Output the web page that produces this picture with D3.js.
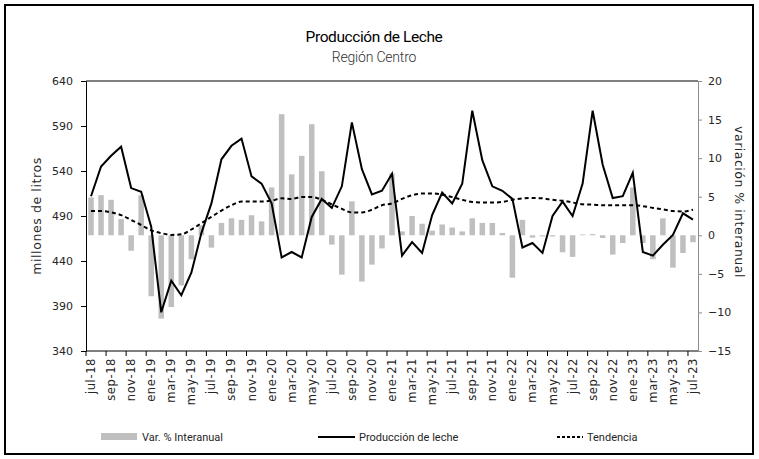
<!DOCTYPE html>
<html>
<head>
<meta charset="utf-8">
<script src="https://cdn.jsdelivr.net/npm/d3@7"></script>
<style>
  body { margin: 0; background: #fff; }
  svg text { font-family: "DejaVu Sans", sans-serif; fill: #262626; }
  .title text { font-family: Roboto, "Noto Sans", sans-serif; }
</style>
</head>
<body>
<div id="chart"></div>
<script>
// data, jul-18 .. jul-23
const months = [
  'jul-18','ago-18','sep-18','oct-18','nov-18','dic-18',
  'ene-19','feb-19','mar-19','abr-19','may-19','jun-19','jul-19','ago-19','sep-19','oct-19','nov-19','dic-19',
  'ene-20','feb-20','mar-20','abr-20','may-20','jun-20','jul-20','ago-20','sep-20','oct-20','nov-20','dic-20',
  'ene-21','feb-21','mar-21','abr-21','may-21','jun-21','jul-21','ago-21','sep-21','oct-21','nov-21','dic-21',
  'ene-22','feb-22','mar-22','abr-22','may-22','jun-22','jul-22','ago-22','sep-22','oct-22','nov-22','dic-22',
  'ene-23','feb-23','mar-23','abr-23','may-23','jun-23','jul-23'
];
// millones de litros
const produccion = [
  512, 545, 557, 567, 521, 517,
  478, 383, 418, 402, 427, 471, 504, 553, 568, 576, 534, 526,
  504, 444, 450, 444, 489, 509, 499, 523, 594, 542, 514, 518,
  537, 446, 461, 449, 491, 516, 504, 526, 607, 552, 523, 518,
  509, 455, 460, 449, 490, 506, 490, 526, 607, 547, 510, 512,
  538, 450, 446, 458, 469, 493, 486
];
// var. % interanual
const variacion = [
  4.9, 5.2, 4.6, 2.1, -2.0, 5.2,
  -7.9, -10.8, -9.3, -6.5, -3.1, 1.3, -1.6, 1.6, 2.2, 2.0, 2.6, 1.8,
  6.2, 15.7, 7.9, 10.3, 14.4, 8.3, -1.2, -5.1, 4.4, -6.0, -3.8, -1.7,
  8.0, 0.5, 2.5, 1.5, 0.6, 1.4, 1.0, 0.5, 2.2, 1.6, 1.6, 0.3,
  -5.5, 2.0, -0.3, -0.15, -0.15, -2.2, -2.8, 0.1, 0.15, -0.35, -2.5, -1.0,
  6.2, -1.0, -3.1, 2.2, -4.2, -2.3, -0.9
];
// tendencia (millones de litros)
const tendencia = [
  495.6, 495.5, 494, 491, 485.6, 480,
  474, 471, 469, 469.6, 475, 482, 489, 496, 502, 506, 506, 506,
  507, 509.6, 509, 511, 511, 508, 503, 498, 494, 494, 497, 502,
  504, 509, 513, 515, 515, 513.7, 511, 508, 505.6, 505, 505, 505.6,
  508, 509.6, 510, 509.6, 508, 507, 505, 503, 502.6, 502, 502, 502,
  502, 501, 499, 497.4, 495.6, 495, 497
];
const leftTicks = [340, 390, 440, 490, 540, 590, 640];
const rightTicks = [-15, -10, -5, 0, 5, 10, 15, 20];

const W = 759, H = 459;
const plot = { left: 86, right: 698, top: 81, bottom: 351 };

const svg = d3.select('#chart').append('svg')
  .attr('width', W).attr('height', H);

// outer frame
svg.append('rect')
  .attr('x', 5).attr('y', 5).attr('width', 748).attr('height', 449)
  .attr('fill', 'none').attr('stroke', '#000').attr('stroke-width', 2);

const x = d3.scaleBand().domain(months).range([plot.left, plot.right]).padding(0);
const y = d3.scaleLinear().domain([340, 640]).range([plot.bottom, plot.top]);
const y2 = d3.scaleLinear().domain([-15, 20]).range([plot.bottom, plot.top]);
const cx = (m) => x(m) + x.bandwidth() / 2;

// title
const title = svg.append('g').attr('class', 'title');
title.append('text').attr('x', 374).attr('y', 42).attr('text-anchor', 'middle')
  .style('font-size', '15.5px').style('letter-spacing', '-0.4px').style('fill', '#000').text('Producción de Leche');
title.append('text').attr('x', 374).attr('y', 62).attr('text-anchor', 'middle')
  .style('font-size', '14px').style('font-weight', 300).style('letter-spacing', '-0.2px').style('fill', '#333').text('Región Centro');

// top border of plot
svg.append('line')
  .attr('x1', plot.left).attr('x2', plot.right).attr('y1', plot.top).attr('y2', plot.top)
  .attr('stroke', '#000').attr('stroke-width', 1);

// bars
const barW = x.bandwidth() * 0.55;
svg.append('g').selectAll('rect')
  .data(months.map((m, i) => ({ m, v: variacion[i] })))
  .join('rect')
  .attr('x', (d) => cx(d.m) - barW / 2)
  .attr('width', barW)
  .attr('y', (d) => Math.min(y2(d.v), y2(0)))
  .attr('height', (d) => Math.abs(y2(d.v) - y2(0)))
  .attr('fill', '#bfbfbf');

// tendencia
const tLine = d3.line().x((d, i) => cx(months[i])).y((d) => y(d)).curve(d3.curveMonotoneX);
svg.append('path').datum(tendencia)
  .attr('d', tLine).attr('fill', 'none')
  .attr('stroke', '#000').attr('stroke-width', 2).attr('stroke-dasharray', '4,3');

// produccion
const pLine = d3.line().x((d, i) => cx(months[i])).y((d) => y(d));
svg.append('path').datum(produccion)
  .attr('d', pLine).attr('fill', 'none')
  .attr('stroke', '#000').attr('stroke-width', 2).attr('stroke-linejoin', 'miter');

// left axis
const gl = svg.append('g').attr('transform', 'translate(' + plot.left + ',0)')
  .call(d3.axisLeft(y).tickValues(leftTicks).tickSize(5).tickPadding(8).tickSizeOuter(0));
gl.select('.domain').attr('stroke', '#000');
gl.selectAll('text').style('font-size', '11px').style('font-family', '"DejaVu Sans", sans-serif').attr('fill', '#262626');

// right axis
const gr = svg.append('g').attr('transform', 'translate(' + plot.right + ',0)')
  .call(d3.axisRight(y2).tickValues(rightTicks).tickSize(4).tickPadding(6).tickSizeOuter(0));
gr.select('.domain').attr('stroke', '#8c8c8c');
gr.selectAll('.tick line').attr('stroke', '#8c8c8c');
gr.selectAll('text').style('font-size', '11px').style('font-family', '"DejaVu Sans", sans-serif').attr('fill', '#262626');

// bottom axis: ticks every two months at band edges, labels centred
const gb = svg.append('g').attr('transform', 'translate(0,' + plot.bottom + ')');
gb.append('line').attr('x1', plot.left).attr('x2', plot.right).attr('stroke', '#000');
const labelled = months.filter((m, i) => i % 2 === 0);
gb.selectAll('.tk').data(labelled).join('line')
  .attr('x1', (m) => x(m)).attr('x2', (m) => x(m))
  .attr('y1', 0).attr('y2', 5).attr('stroke', '#000');
gb.selectAll('.lb').data(labelled).join('text')
  .attr('transform', (m) => 'translate(' + (cx(m) + 4) + ',7) rotate(-90)')
  .attr('text-anchor', 'end')
  .style('font-size', '11.5px')
  .style('letter-spacing', '0.6px')
  .text((m) => m);

// axis titles
svg.append('text').attr('transform', 'translate(41,216) rotate(-90)')
  .attr('text-anchor', 'middle').style('font-size', '12.5px').style('letter-spacing', '0.6px').text('millones de litros');
svg.append('text').attr('transform', 'translate(735,202) rotate(90)')
  .attr('text-anchor', 'middle').style('font-size', '12.5px').style('letter-spacing', '0.5px').text('variación % interanual');

// legend
const lg = svg.append('g').attr('transform', 'translate(0,437)');
lg.append('rect').attr('x', 101).attr('y', -4).attr('width', 36).attr('height', 7).attr('fill', '#bfbfbf');
lg.append('text').attr('x', 142).attr('y', 4).style('font-size', '11px').style('font-family', 'Roboto, sans-serif').text('Var. % Interanual');
lg.append('line').attr('x1', 318).attr('x2', 355).attr('y1', 0).attr('y2', 0).attr('stroke', '#000').attr('stroke-width', 2);
lg.append('text').attr('x', 359).attr('y', 4).style('font-size', '11px').style('font-family', 'Roboto, sans-serif').text('Producción de leche');
lg.append('line').attr('x1', 557).attr('x2', 583).attr('y1', 0).attr('y2', 0).attr('stroke', '#000').attr('stroke-width', 2).attr('stroke-dasharray', '3,2');
lg.append('text').attr('x', 587).attr('y', 4).style('font-size', '11px').style('font-family', 'Roboto, sans-serif').text('Tendencia');
</script>
</body>
</html>
